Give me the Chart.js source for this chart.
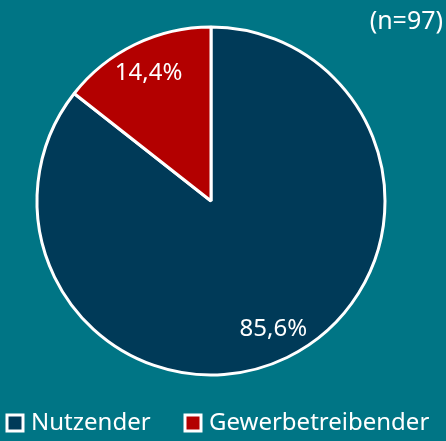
<!DOCTYPE html>
<html>
<head>
<meta charset="utf-8">
<script src="https://cdn.jsdelivr.net/npm/chart.js@4"></script>
<style>
  html, body { margin: 0; padding: 0; background: #007585; }
  #wrap { width: 446px; height: 441px; position: relative; }
</style>
</head>
<body>
<div id="wrap"><canvas id="myChart" width="446" height="441"></canvas></div>
<script>
// data
var categories = ['Nutzender', 'Gewerbetreibender'];
var shares = [85.6, 14.4];
var sliceColors = ['#003A58', '#B30000'];
var sampleNote = '(n=97)';

// legend entry x positions (box left)
var legendX = [7, 185];

// labels inside slices, n note and legend
var sliceLabels = {
    id: 'sliceLabels',
    afterDraw: function(chart) {
        var ctx = chart.ctx;
        var meta = chart.getDatasetMeta(0);
        ctx.save();
        ctx.fillStyle = '#ffffff';
        ctx.font = '24px "Noto Sans", sans-serif';
        ctx.textAlign = 'center';
        ctx.textBaseline = 'middle';
        meta.data.forEach(function(arc, i) {
            var p = arc.getProps(['x', 'y', 'startAngle', 'endAngle', 'outerRadius'], true);
            var mid = (p.startAngle + p.endAngle) / 2;
            var r = p.outerRadius * 0.82;
            ctx.fillText(shares[i].toFixed(1).replace('.', ',') + '%', p.x + Math.cos(mid) * r, p.y + Math.sin(mid) * r);
        });
        ctx.font = '25px "Noto Sans", sans-serif';
        ctx.textAlign = 'right';
        ctx.fillText(sampleNote, 443, 22);

        // legend
        ctx.textAlign = 'left';
        ctx.font = '24px "Noto Sans", sans-serif';
        categories.forEach(function(c, i) {
            var x = legendX[i];
            ctx.fillStyle = sliceColors[i];
            ctx.fillRect(x, 415, 16, 16);
            ctx.strokeStyle = '#ffffff';
            ctx.lineWidth = 3;
            ctx.strokeRect(x, 415, 16, 16);
            ctx.fillStyle = '#ffffff';
            ctx.fillText(c, x + 24, 423);
        });
        ctx.restore();
    }
};

window.onload = function() {
    var ctx = document.getElementById('myChart').getContext('2d');
    new Chart(ctx, {
        type: 'pie',
        data: {
            labels: categories,
            datasets: [{
                data: shares,
                backgroundColor: sliceColors,
                borderColor: '#ffffff',
                borderWidth: 3,
                radius: 174,
                hoverOffset: 0
            }]
        },
        options: {
            responsive: false,
            animation: false,
            layout: { padding: { top: 24, right: 24, left: 0, bottom: 63 } },
            plugins: {
                tooltip: { enabled: false },
                legend: { display: false }
            }
        },
        plugins: [sliceLabels]
    });
};
</script>
</body>
</html>
